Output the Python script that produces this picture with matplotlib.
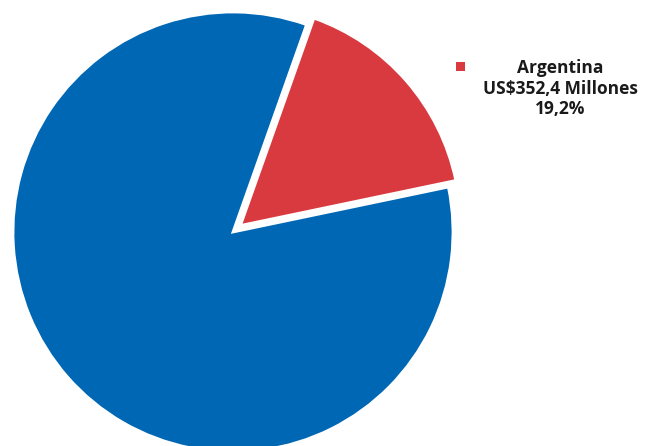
import matplotlib
matplotlib.use("Agg")
import matplotlib.pyplot as plt
from matplotlib.patches import Rectangle

# Data (shares as drawn in the picture; label text as printed)
categories = ["Argentina", "Resto"]
drawn_shares = [16.3, 83.7]
label_name = "Argentina"
label_value = "US$352,4 Millones"
label_pct = "19,2%"
colors = ["#D93A40", "#0067B4"]
explode = [0.045, 0.0]

W, H = 649, 446
fig = plt.figure(figsize=(W / 100, H / 100), dpi=100)
fig.patch.set_facecolor("white")

cx, cy, r = 233, 232, 220  # pixel centre (from top) and radius
ax = fig.add_axes([(cx - r) / W, (H - cy - r) / H, 2 * r / W, 2 * r / H])
wedges, _ = ax.pie(drawn_shares, colors=colors, explode=explode,
                   startangle=11.8, counterclock=True, radius=1.0,
                   wedgeprops=dict(edgecolor="white", linewidth=2.0))
for w in wedges:
    w.set_clip_on(False)
ax.set_xlim(-1, 1)
ax.set_ylim(-1, 1)
ax.set_aspect("equal")
ax.axis("off")

# Legend-like label
fig.add_artist(Rectangle((456 / W, (H - 71) / H), 9 / W, 9 / H,
                         transform=fig.transFigure, facecolor=colors[0],
                         edgecolor="none"))
font = dict(family=["Open Sans", "DejaVu Sans"], fontsize=12.5,
            fontweight="bold", color="#1a1a1a")
for txt, y in [(label_name, 68), (label_value, 89), (label_pct, 109)]:
    fig.text(560 / W, (H - y) / H, txt, ha="center", va="center", **font)

fig.savefig("out.png", dpi=100, facecolor="white")
